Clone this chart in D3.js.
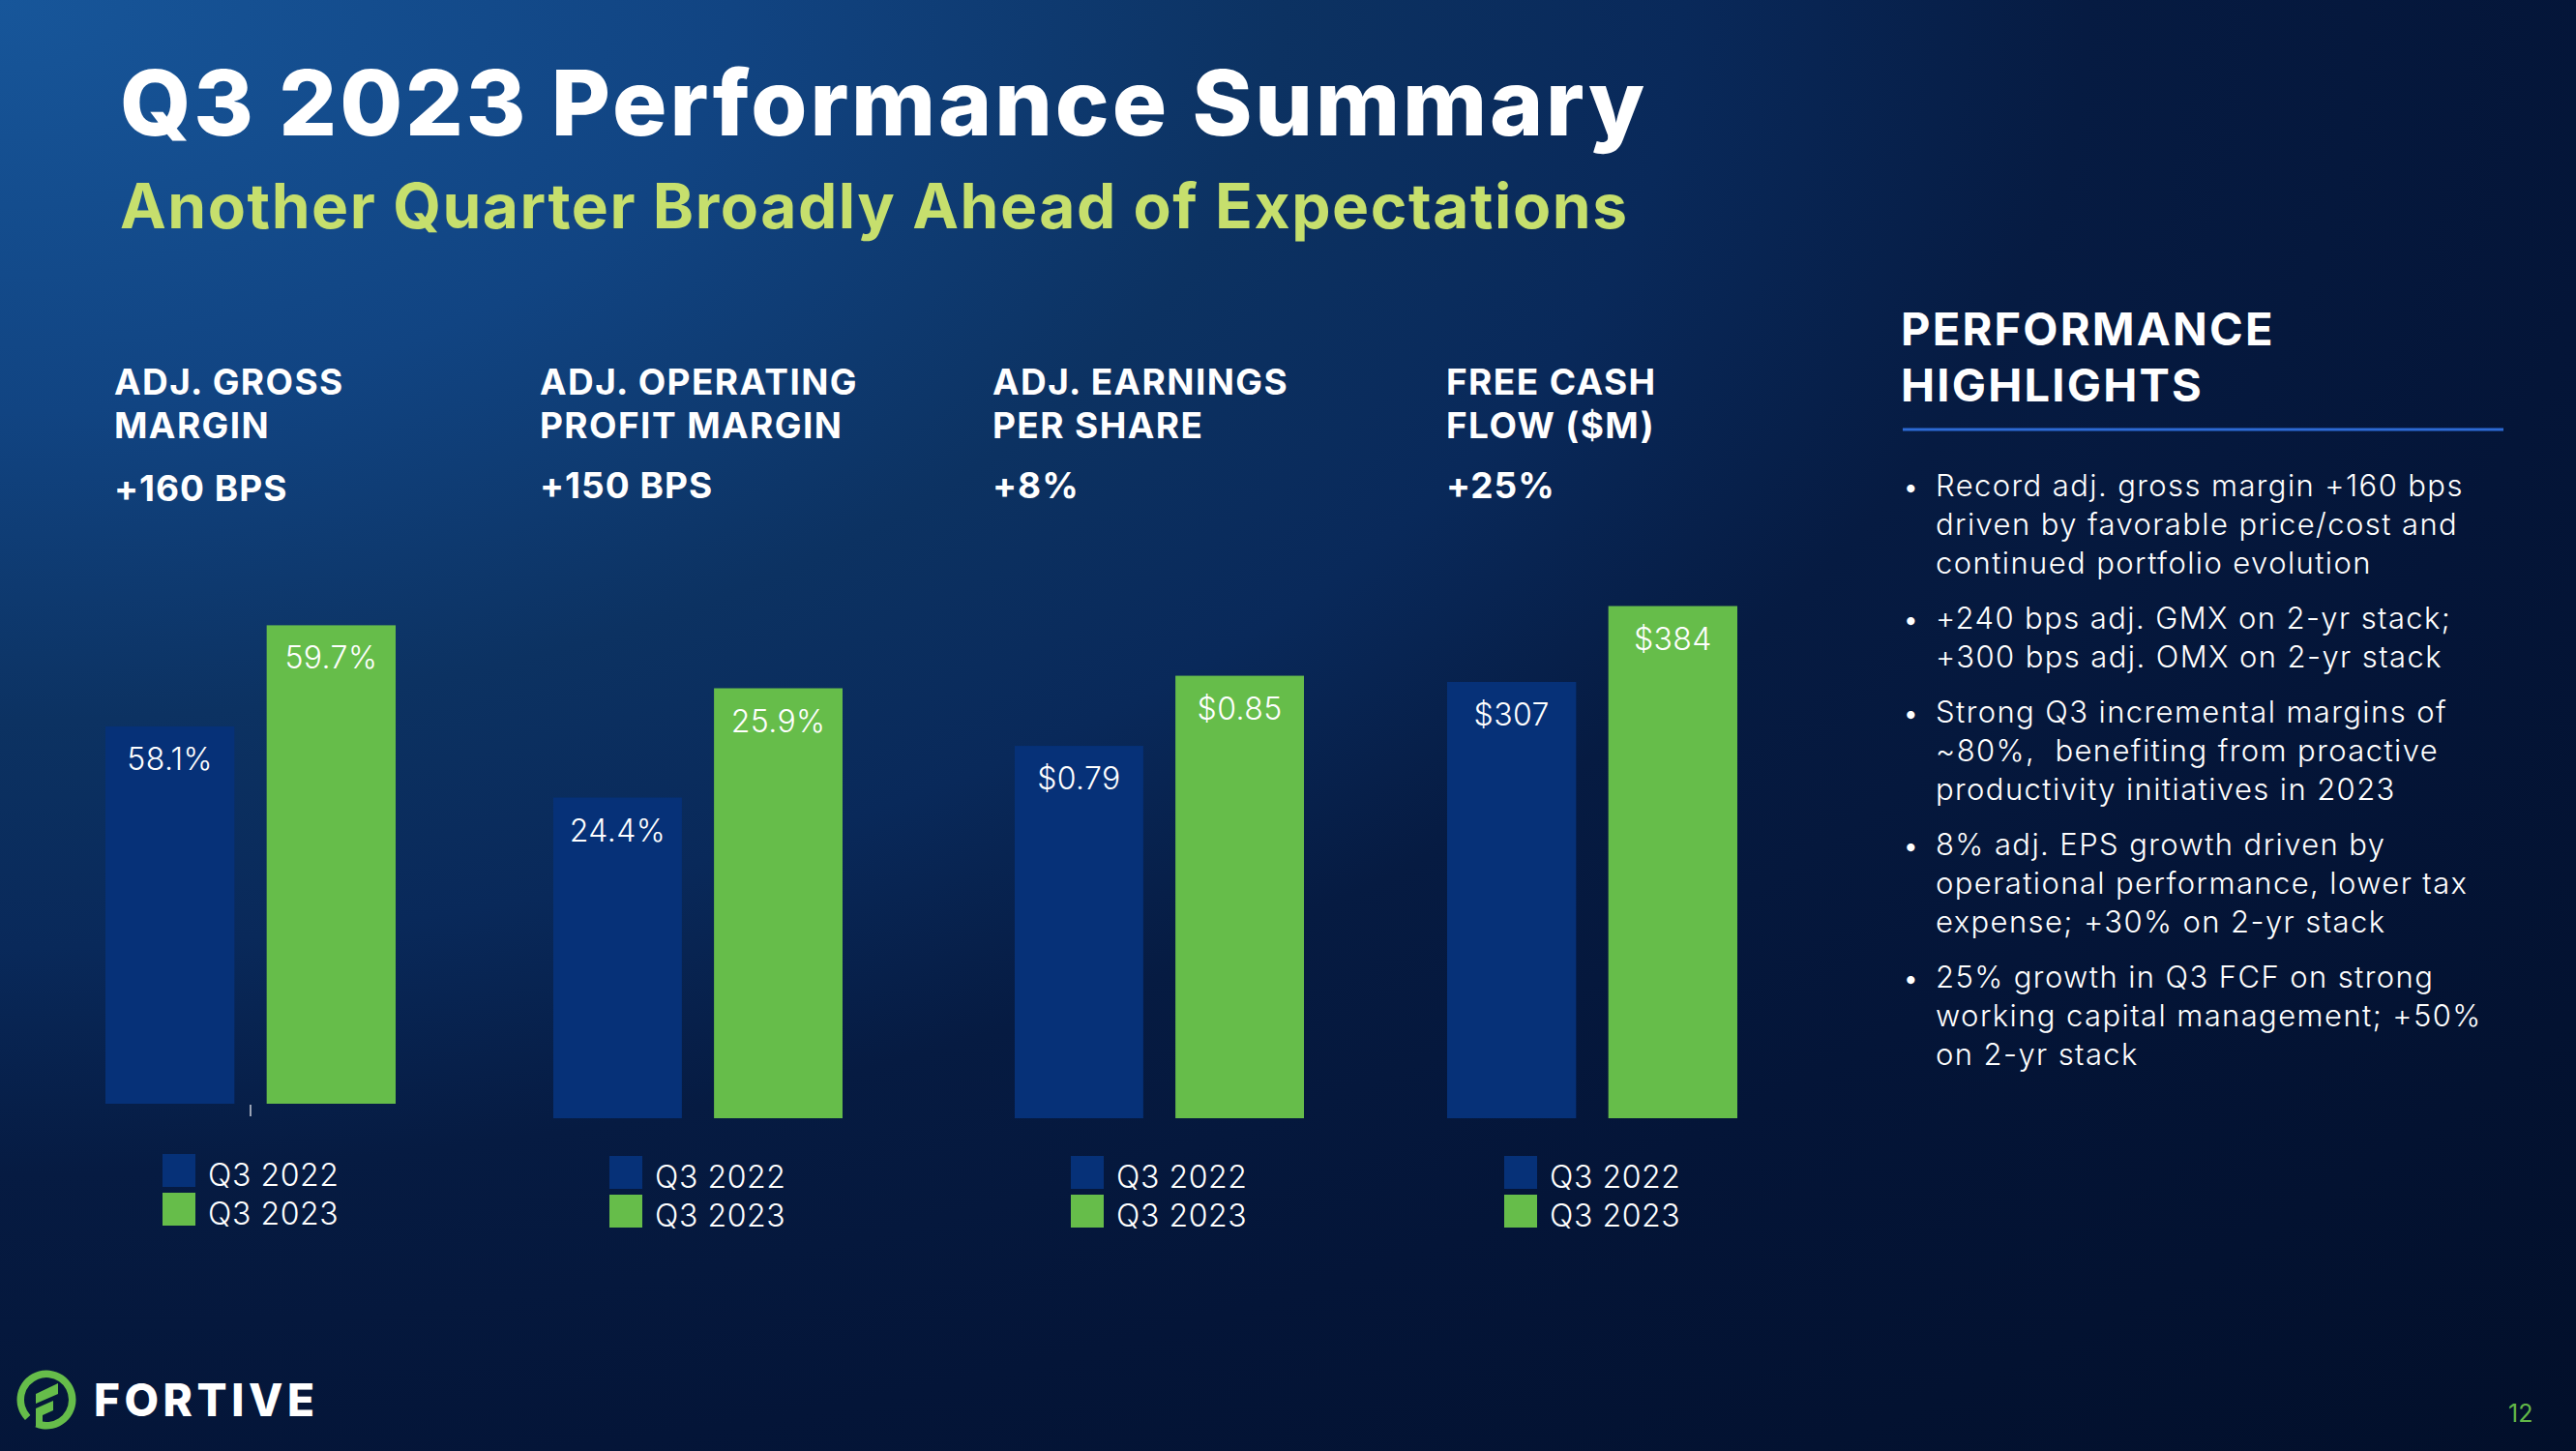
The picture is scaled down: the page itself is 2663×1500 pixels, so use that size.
<!DOCTYPE html>
<html>
<head>
<meta charset="utf-8">
<script src="https://cdn.jsdelivr.net/npm/d3@7/dist/d3.min.js"></script>
<style>
  html, body { margin: 0; padding: 0; background: #03122e; }
  svg { display: block; }
  text { white-space: pre; }
</style>
</head>
<body>
<svg id="chart" width="2663" height="1500"></svg>
<script>
// ---------------- DATA ----------------
const title = "Q3 2023 Performance Summary";
const subtitle = "Another Quarter Broadly Ahead of Expectations";
const panelTitles = [
  ["ADJ. GROSS", "MARGIN"],
  ["ADJ. OPERATING", "PROFIT MARGIN"],
  ["ADJ. EARNINGS", "PER SHARE"],
  ["FREE CASH", "FLOW ($M)"]
];
const panelChanges = ["+160 BPS", "+150 BPS", "+8%", "+25%"];
const seriesNames = ["Q3 2022", "Q3 2023"];
const valuesQ3_2022 = [58.1, 24.4, 0.79, 307];
const valuesQ3_2023 = [59.7, 25.9, 0.85, 384];
const labelsQ3_2022 = ["58.1%", "24.4%", "$0.79", "$307"];
const labelsQ3_2023 = ["59.7%", "25.9%", "$0.85", "$384"];
// value-axis extents of each (truncated) panel axis
const axisMin = [52.13, 20, 0.4713, -135.4];
const axisMax = [60.41, 27.38, 0.9316, 410];
const highlightsTitle = ["PERFORMANCE", "HIGHLIGHTS"];
const bullets = [
  ["Record adj. gross margin +160 bps", "driven by favorable price/cost and", "continued portfolio evolution"],
  ["+240 bps adj. GMX on 2-yr stack;", "+300 bps adj. OMX on 2-yr stack"],
  ["Strong Q3 incremental margins of", "~80%,  benefiting from proactive", "productivity initiatives in 2023"],
  ["8% adj. EPS growth driven by", "operational performance, lower tax", "expense; +30% on 2-yr stack"],
  ["25% growth in Q3 FCF on strong", "working capital management; +50%", "on 2-yr stack"]
];
const brand = "FORTIVE";
const pageNumber = "12";

// ---------------- LAYOUT / STYLE ----------------
const W = 2663, H = 1500;
const COLORS = { blue: "#063178", green: "#66bd4a", sub: "#c6df6d", rule: "#2d6ad4", page: "#62b848" };
const HEAD_FONT = "Inter, 'Open Sans', sans-serif";
const BODY_FONT = "Inter, 'Open Sans', sans-serif";
const panelX = [[109, 409], [572, 871], [1049, 1348], [1496, 1796]];
const panelBase = [1141, 1156, 1156, 1156];
const panelHeadX = [118, 558, 1026, 1495];
const changeBase = [518, 515, 515, 515];
const legendX = [168, 630, 1107, 1555];
const legendY = [1193, 1195, 1195, 1195];
const plotTop = 600;

const svg = d3.select("#chart");
const defs = svg.append("defs");
const grad = defs.append("radialGradient")
  .attr("id", "bg").attr("cx", 0).attr("cy", 0).attr("r", 1.42).attr("fx", 0).attr("fy", 0);
[[0, "#17569a"], [0.2, "#114482"], [0.35, "#0c3262"], [0.46, "#09295a"], [0.57, "#061b42"], [0.72, "#041538"], [1, "#020f2a"]]
  .forEach(([o, c]) => grad.append("stop").attr("offset", o).attr("stop-color", c));
svg.append("rect").attr("width", W).attr("height", H).attr("fill", "url(#bg)");

// Titles
svg.append("text").attr("x", 124).attr("y", 139.5)
  .attr("font-family", HEAD_FONT).attr("font-weight", 800).attr("font-size", 94)
  .attr("fill", "#fff").attr("textLength", 1576).attr("lengthAdjust", "spacing").text(title);
svg.append("text").attr("x", 124).attr("y", 236)
  .attr("font-family", HEAD_FONT).attr("font-weight", 700).attr("font-size", 64)
  .attr("fill", COLORS.sub).attr("textLength", 1558).attr("lengthAdjust", "spacing").text(subtitle);

// Panels
panelTitles.forEach((lines, i) => {
  const g = svg.append("g");
  lines.forEach((ln, k) => {
    g.append("text").attr("x", panelHeadX[i]).attr("y", 408 + k * 45)
      .attr("font-family", HEAD_FONT).attr("font-weight", 700).attr("font-size", 37)
      .attr("letter-spacing", 1.4).attr("fill", "#fff").text(ln);
  });
  g.append("text").attr("x", panelHeadX[i]).attr("y", changeBase[i])
    .attr("font-family", HEAD_FONT).attr("font-weight", 700).attr("font-size", 37)
    .attr("letter-spacing", 1).attr("fill", "#fff").text(panelChanges[i]);

  const x = d3.scaleBand().domain(seriesNames).range(panelX[i]).paddingInner(0.2).paddingOuter(0);
  const y = d3.scaleLinear().domain([axisMin[i], axisMax[i]]).range([panelBase[i], plotTop]);
  const color = d3.scaleOrdinal().domain(seriesNames).range([COLORS.blue, COLORS.green]);
  const rows = [
    { s: seriesNames[0], v: valuesQ3_2022[i], l: labelsQ3_2022[i] },
    { s: seriesNames[1], v: valuesQ3_2023[i], l: labelsQ3_2023[i] }
  ];
  g.selectAll("rect.bar").data(rows).join("rect").attr("class", "bar")
    .attr("x", d => x(d.s)).attr("width", x.bandwidth())
    .attr("y", d => y(d.v)).attr("height", d => y(axisMin[i]) - y(d.v))
    .attr("fill", d => color(d.s));
  g.selectAll("text.val").data(rows).join("text").attr("class", "val")
    .attr("x", d => x(d.s) + x.bandwidth() / 2).attr("y", d => y(d.v) + 45)
    .attr("text-anchor", "middle").attr("font-family", BODY_FONT).attr("font-weight", 300)
    .attr("font-size", 32).attr("letter-spacing", 0.4).attr("fill", "#fff").text(d => d.l);

  if (i === 0) {
    const mid = (x(seriesNames[0]) + x.bandwidth() + x(seriesNames[1])) / 2;
    g.append("line").attr("x1", mid).attr("x2", mid)
      .attr("y1", y(axisMin[i]) + 1).attr("y2", y(axisMin[i]) + 13)
      .attr("stroke", "#9aa3b5").attr("stroke-width", 2);
  }

  // legend
  const lg = g.append("g").attr("transform", `translate(${legendX[i]},${legendY[i]})`);
  seriesNames.forEach((s, k) => {
    lg.append("rect").attr("x", 0).attr("y", k * 40).attr("width", 34).attr("height", 34).attr("fill", color(s));
    lg.append("text").attr("x", 47).attr("y", k * 40 + 33)
      .attr("font-family", BODY_FONT).attr("font-weight", 300).attr("font-size", 32)
      .attr("letter-spacing", 0.6).attr("fill", "#fff").text(s);
  });
});

// Highlights panel
highlightsTitle.forEach((t, k) => {
  svg.append("text").attr("x", 1965).attr("y", 357 + k * 58)
    .attr("font-family", HEAD_FONT).attr("font-weight", 700).attr("font-size", 47)
    .attr("fill", "#fff").attr("letter-spacing", 2.2).text(t);
});
svg.append("line").attr("x1", 1967).attr("x2", 2588).attr("y1", 444).attr("y2", 444)
  .attr("stroke", COLORS.rule).attr("stroke-width", 3);

let yb = 513;
bullets.forEach(lines => {
  svg.append("text").attr("x", 1968).attr("y", yb)
    .attr("font-family", BODY_FONT).attr("font-size", 26).attr("fill", "#fff").text("•");
  lines.forEach((ln, k) => {
    svg.append("text").attr("x", 2001).attr("y", yb + k * 40)
      .attr("font-family", BODY_FONT).attr("font-weight", 300).attr("font-size", 31)
      .attr("letter-spacing", 1.4).attr("fill", "#fff").text(ln);
  });
  yb += (lines.length - 1) * 40 + 57;
});

// Logo
const logo = svg.append("g").attr("transform", "translate(48,1447)");
logo.append("path")
  .attr("d", d3.arc().innerRadius(23).outerRadius(30.5).startAngle(3.95).endAngle(3.95 + 2 * Math.PI - 0.42)())
  .attr("fill", COLORS.green);
logo.append("path").attr("d", "M-11,-6 L12,-17 L12,-6 L-11,4 Z").attr("fill", COLORS.green);
logo.append("path").attr("d", "M-11,9 L7,1 L7,11 L-4,16 L-4,28 L-11,28 Z").attr("fill", COLORS.green);
svg.append("text").attr("x", 97).attr("y", 1464)
  .attr("font-family", HEAD_FONT).attr("font-weight", 800).attr("font-size", 46)
  .attr("fill", "#fff").attr("textLength", 228).attr("lengthAdjust", "spacing").text(brand);

svg.append("text").attr("x", 2593).attr("y", 1470)
  .attr("font-family", BODY_FONT).attr("font-size", 25).attr("fill", COLORS.page).text(pageNumber);
</script>
</body>
</html>
